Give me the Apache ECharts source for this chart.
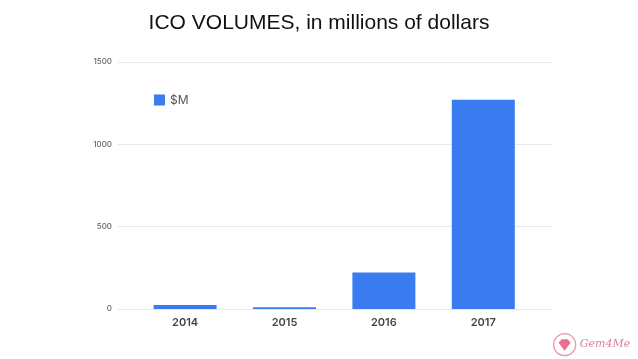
<!DOCTYPE html>
<html>
<head>
<meta charset="utf-8">
<style>
  html, body { margin: 0; padding: 0; background: #fff; }
  #chart { width: 638px; height: 359px; }
</style>
<script src="https://cdn.jsdelivr.net/npm/echarts@6/dist/echarts.min.js"></script>
</head>
<body>
<div id="chart"></div>
<script>
const years = ['2014', '2015', '2016', '2017'];
const volumes = [24, 10, 222, 1270];

const chart = echarts.init(document.getElementById('chart'));

chart.setOption({
  animation: false,
  title: {
    text: 'ICO VOLUMES, in millions of dollars',
    left: 'center',
    top: 8,
    textStyle: { fontFamily: 'Liberation Sans', fontSize: 21, fontWeight: 'normal', color: '#111' },
  },
  legend: {
    left: 149,
    top: 89,
    itemWidth: 11,
    itemHeight: 11,
    icon: 'rect',
    itemGap: 6,
    data: ['$M'],
    textStyle: { fontFamily: 'Inter', fontSize: 12, color: '#555', padding: [0, 0, 0, 0] },
  },
  // wide grid only carries the y axis lines, bars sit in the narrower one
  grid: [
    { left: 135.4, width: 397.6, top: 62, height: 247 },
    { left: 118, width: 434, top: 62, height: 247 },
  ],
  xAxis: [
    {
      gridIndex: 0,
      type: 'category',
      data: years,
      axisLine: { show: false },
      axisTick: { show: false },
      axisLabel: { fontFamily: 'Inter', fontSize: 11, fontWeight: 600, color: '#444', margin: 8 },
    },
    { gridIndex: 1, type: 'category', data: years, show: false },
  ],
  yAxis: [
    { gridIndex: 0, type: 'value', min: 0, max: 1500, show: false },
    {
      gridIndex: 1,
      type: 'value',
      min: 0,
      max: 1500,
      interval: 500,
      axisLine: { show: false },
      axisTick: { show: false },
      axisLabel: {
        fontFamily: 'Inter',
        fontSize: 8,
        fontWeight: 500,
        color: '#666',
        margin: 6,
        formatter: (value) => String(value),
      },
      splitLine: { lineStyle: { color: '#e8e8e8', width: 1 } },
    },
  ],
  series: [
    {
      name: '$M',
      type: 'bar',
      xAxisIndex: 0,
      yAxisIndex: 0,
      data: volumes,
      barWidth: 63,
      itemStyle: { color: '#3b7bf0' },
    },
  ],
  graphic: [
    {
      type: 'group',
      left: 553,
      top: 333,
      silent: true,
      children: [
        { type: 'circle', shape: { cx: 12, cy: 11, r: 11 }, style: { fill: '#fff', stroke: '#e89ab0', lineWidth: 1.3 } },
        { type: 'polygon', shape: { points: [[6, 9], [9, 5.5], [15, 5.5], [18, 9], [12, 17]] }, style: { fill: '#ea6f8e' } },
        {
          type: 'text',
          x: 27,
          y: 5,
          style: { text: 'Gem4Me', fontFamily: 'DejaVu Serif', fontStyle: 'italic', fontSize: 11, fill: '#dd7f99' },
        },
      ],
    },
  ],
});
</script>
</body>
</html>
